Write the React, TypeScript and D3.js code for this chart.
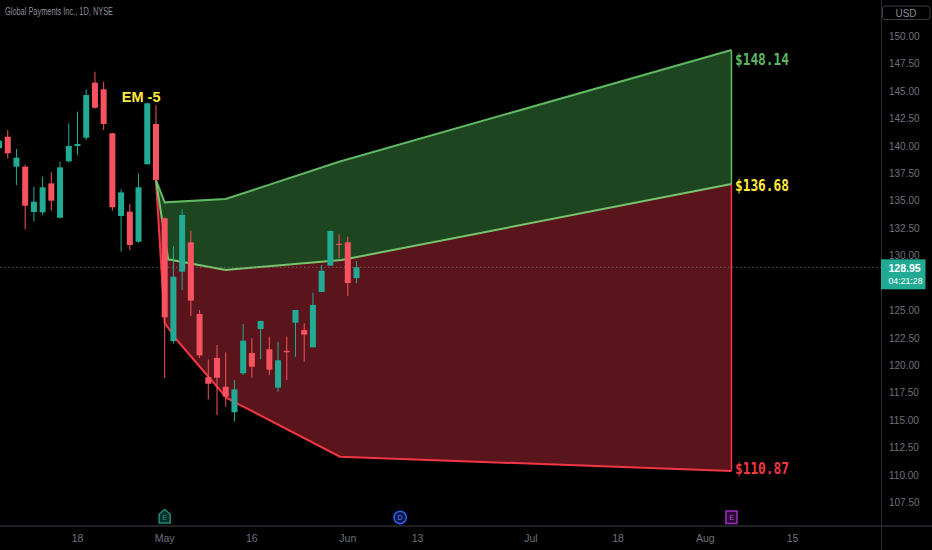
import React from "react";
import * as d3 from "d3";

// ---------- data ----------
const title = "Global Payments Inc., 1D, NYSE";

// trading-day index 0 = Apr 18 (2022)
const firstCandleDay = -9;
const candleOpen = [139.8, 140.85, 138.12, 138.12, 133.99, 133.96, 136.6, 133.47, 138.61, 140.0, 140.76, 145.77, 145.17, 141.16, 133.62, 134.02, 131.28, 138.34, 142.01,
  133.42, 122.23, 128.55, 131.23, 124.69, 118.93, 120.69, 118.07, 115.74, 119.29, 121.14, 123.33, 121.48, 117.98, 121.34, 123.9, 123.24, 121.66, 126.7, 129.1, 131.1, 131.23, 127.97];
const candleHigh = [141.0, 141.46, 139.73, 138.3, 136.3, 137.21, 137.61, 138.57, 142.07, 143.13, 145.17, 146.77, 145.86, 141.2, 136.06, 134.72, 137.52, 143.95, 143.74,
  133.5, 130.89, 134.24, 132.28, 125.06, 120.57, 121.87, 121.2, 118.68, 123.78, 122.48, 124.06, 122.63, 122.17, 122.63, 125.06, 123.85, 126.64, 129.16, 132.3, 131.96, 131.74, 129.52];
const candleLow = [139.3, 138.88, 136.45, 132.41, 133.11, 133.72, 134.11, 133.4, 138.5, 139.18, 140.55, 143.4, 141.46, 134.11, 130.37, 130.53, 131.2, 138.3, 136.75,
  118.86, 122.0, 126.88, 124.51, 120.69, 116.92, 115.49, 116.25, 114.88, 119.14, 118.89, 120.57, 119.14, 117.61, 118.68, 120.8, 120.35, 121.66, 126.7, 129.1, 129.77, 126.33, 127.49];
const candleClose = [140.5, 139.34, 138.94, 134.56, 134.93, 136.24, 135.02, 138.06, 140.0, 140.19, 144.65, 143.49, 142.01, 134.42, 135.78, 130.98, 136.24, 143.89, 136.91,
  124.39, 128.09, 133.72, 125.91, 120.93, 118.34, 118.89, 117.16, 117.83, 122.26, 119.89, 124.06, 119.62, 120.48, 121.21, 125.06, 122.81, 125.52, 128.64, 132.26, 131.0, 127.52, 128.95];

// expected-move cone
const upperDays = [9, 10, 17, 30, 75];
const upperVals = [136.9, 134.87, 135.17, 138.57, 148.75];
const middleDays = [9, 10.4, 17, 30.3, 75];
const middleVals = [136.9, 129.68, 128.71, 129.62, 136.54];
const lowerDays = [9, 10, 11.35, 17.1, 18.45, 30.1, 75];
const lowerVals = [136.9, 123.88, 122.37, 117.04, 116.49, 111.69, 110.39];

const levelVals = [148.14, 136.68, 110.87];
const levelColors = ["#5cb85f", "#ffeb3b", "#f23645"];

const emLabel = "EM -5";
const emDay = 7.3;
const emPrice = 144.5;

const xTickLabels = ["18", "May", "16", "Jun", "13", "Jul", "18", "Aug", "15"];
const xTickDays = [0, 10, 20, 31, 39, 52, 62, 72, 82];
const yTickMin = 107.5;
const yTickMax = 150;
const yTickStep = 2.5;

const lastPrice = 128.95;
const countdown = "04:21:28";
const earningsDays = [10, 75];
const dividendDay = 37;

// ---------- layout ----------
const W = 932;
const H = 550;
const axisX = 881.5;
const axisY = 526;

const x = d3.scaleLinear().domain([0, 82]).range([77.5, 792.5]);
const y = d3.scaleLinear().domain([107.5, 150]).range([502.7, 36.3]);

const UP = "#22ab94";
const DOWN = "#f7525f";

export default function App() {
  const line = d3.line<[number, number]>().x((d) => x(d[0])).y((d) => y(d[1]));
  const upperPts: [number, number][] = upperDays.map((d, i) => [d, upperVals[i]]);
  const middlePts: [number, number][] = middleDays.map((d, i) => [d, middleVals[i]]);
  const lowerPts: [number, number][] = lowerDays.map((d, i) => [d, lowerVals[i]]);

  const greenPoly = line([...upperPts, ...middlePts.slice().reverse()]) + "Z";
  const redPoly = line([...middlePts, ...lowerPts.slice().reverse()]) + "Z";

  const boxTop = y(lastPrice) - 8;
  const boxBottom = boxTop + 30;
  const yTicks = d3
    .range(yTickMin, yTickMax + 0.001, yTickStep)
    .filter((t) => y(t) < boxTop + 2 || y(t) > boxBottom + 3);
  const bw = 6;
  const font = "'Liberation Sans', Arial, sans-serif";
  const endX = x(upperDays[upperDays.length - 1]);

  return (
    <div style={{ position: "fixed", left: 0, top: 0, width: W, height: H, background: "#000" }}>
      <svg width={W} height={H} style={{ display: "block" }}>
        <rect x={0} y={0} width={W} height={H} fill="#000" />
        {/* cone fills */}
        <path d={greenPoly} fill="#1d4620" />
        <path d={redPoly} fill="#5a151c" />
        {/* right edges */}
        <line x1={endX} x2={endX} y1={y(upperVals[upperVals.length - 1])} y2={y(middleVals[middleVals.length - 1])} stroke="#5fb862" strokeWidth={1.5} />
        <line x1={endX} x2={endX} y1={y(middleVals[middleVals.length - 1])} y2={y(lowerVals[lowerVals.length - 1])} stroke="#f23645" strokeWidth={1.5} />
        <path d={line(lowerPts) || ""} fill="none" stroke="#f23645" strokeWidth={2} />
        <path d={line(upperPts) || ""} fill="none" stroke="#5fb862" strokeWidth={2} />
        <path d={line(middlePts) || ""} fill="none" stroke="#78c46e" strokeWidth={2} />

        {/* last price dashed line */}
        <line x1={0} x2={axisX} y1={y(lastPrice)} y2={y(lastPrice)} stroke="#787b86" strokeOpacity={0.7} strokeDasharray="1.5,2.5" strokeWidth={1} />

        {/* candles */}
        {candleOpen.map((o, i) => {
          const c = candleClose[i];
          const cx = x(firstCandleDay + i);
          const col = c >= o ? UP : DOWN;
          const top = y(Math.max(o, c));
          const bot = y(Math.min(o, c));
          return (
            <g key={i}>
              <line x1={cx} x2={cx} y1={y(candleHigh[i])} y2={y(candleLow[i])} stroke={col} strokeWidth={1} />
              <rect x={cx - bw / 2} y={top} width={bw} height={Math.max(1, bot - top)} fill={col} />
            </g>
          );
        })}

        {/* EM label */}
        <text x={x(emDay)} y={y(emPrice)} fill="#ffeb3b" fontFamily={font} fontWeight="bold" fontSize={14.5} textAnchor="middle" dominantBaseline="central">{emLabel}</text>

        {/* level labels */}
        {levelVals.map((v, i) => (
          <text key={i} x={endX + 3.5} y={y(v) + 3} fill={levelColors[i]} fontFamily="'DejaVu Sans Mono', monospace" fontWeight="bold" fontSize={16} textLength={54} lengthAdjust="spacingAndGlyphs" dominantBaseline="central">
            {"$" + v.toFixed(2)}
          </text>
        ))}

        {/* title */}
        <text x={5} y={11.5} fill="#8a8d96" fontFamily={font} fontSize={10} textLength={108} lengthAdjust="spacingAndGlyphs" dominantBaseline="central">{title}</text>

        {/* axes lines */}
        <line x1={axisX} x2={axisX} y1={0} y2={H} stroke="#2a2c31" strokeWidth={1} />
        <line x1={0} x2={W} y1={axisY} y2={axisY} stroke="#2a2c31" strokeWidth={1.5} />

        {/* y ticks */}
        {yTicks.map((t) => (
          <text key={t} x={889} y={y(t)} fill="#6f727b" fontFamily={font} fontSize={10} dominantBaseline="central">{t.toFixed(2)}</text>
        ))}

        {/* USD box */}
        <rect x={882.5} y={6} width={47.5} height={13.5} rx={2.5} fill="#000" stroke="#3a3c42" strokeWidth={1} />
        <text x={906} y={13} fill="#8a8d96" fontFamily={font} fontSize={10} textAnchor="middle" dominantBaseline="central">USD</text>

        {/* last price box */}
        <rect x={881} y={boxTop} width={44.5} height={30} fill={UP} />
        <text x={888.5} y={y(lastPrice) + 0.5} fill="#fff" fontFamily={font} fontWeight="bold" fontSize={10.5} dominantBaseline="central">{lastPrice.toFixed(2)}</text>
        <text x={888.5} y={y(lastPrice) + 13} fill="#fff" fontFamily={font} fontSize={9.8} textLength={34} lengthAdjust="spacingAndGlyphs" dominantBaseline="central">{countdown}</text>

        {/* x ticks */}
        {xTickLabels.map((l, i) => (
          <text key={i} x={x(xTickDays[i])} y={538} fill="#6f727b" fontFamily={font} fontSize={10.5} textAnchor="middle" dominantBaseline="central">{l}</text>
        ))}

        {/* event markers */}
        {(() => {
          const ex = x(earningsDays[0]);
          return (
            <g>
              <path d={`M${ex - 5.5},523 L${ex + 5.5},523 L${ex + 5.5},514 L${ex},509.5 L${ex - 5.5},514 Z`} fill="#0b2e2a" stroke="#1a8b7b" strokeWidth={1.5} />
              <text x={ex} y={517.5} fill="#1a9b89" fontFamily={font} fontSize={7} textAnchor="middle" dominantBaseline="central">E</text>
            </g>
          );
        })()}
        {(() => {
          const dx = x(dividendDay);
          return (
            <g>
              <circle cx={dx} cy={517.5} r={6.2} fill="#0a1a4a" stroke="#2f5ef0" strokeWidth={1.5} />
              <text x={dx} y={517.5} fill="#5b82ff" fontFamily={font} fontSize={7} textAnchor="middle" dominantBaseline="central">D</text>
            </g>
          );
        })()}
        {(() => {
          const ex = x(earningsDays[1]);
          return (
            <g>
              <rect x={ex - 5.5} y={511} width={11} height={12.5} fill="#2e0a38" stroke="#a02ec0" strokeWidth={1.5} />
              <text x={ex} y={517.5} fill="#b04ad0" fontFamily={font} fontSize={7} textAnchor="middle" dominantBaseline="central">E</text>
            </g>
          );
        })()}
      </svg>
    </div>
  );
}
